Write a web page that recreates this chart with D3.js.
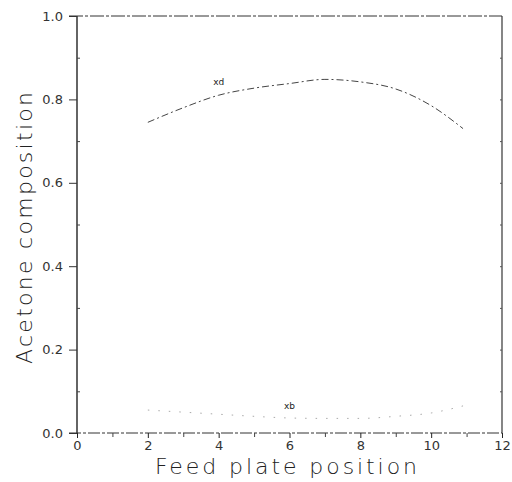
<!DOCTYPE html>
<html>
<head>
<meta charset="utf-8">
<script src="https://cdn.jsdelivr.net/npm/d3@7"></script>
<style>
  body { margin: 0; background: #fff; }
  svg text { font-family: "DejaVu Sans", sans-serif; }
</style>
</head>
<body>
<svg id="chart" width="512" height="482"></svg>
<script>
// plate positions and compositions
const plates = [2, 3, 4, 5, 6, 7, 8, 9, 10, 10.9];
const xd = [0.745, 0.780, 0.810, 0.827, 0.838, 0.848, 0.842, 0.825, 0.785, 0.730];
const xb = [0.055, 0.050, 0.045, 0.040, 0.036, 0.035, 0.035, 0.040, 0.048, 0.065];
const xTicks = [0, 2, 4, 6, 8, 10, 12];
const yTicks = [0.0, 0.2, 0.4, 0.6, 0.8, 1.0];

const width = 512, height = 482;
const m = { left: 77, right: 10, top: 16, bottom: 49 };

const svg = d3.select("#chart");

const x = d3.scaleLinear().domain([0, 12]).range([m.left, width - m.right]);
const y = d3.scaleLinear().domain([0, 1]).range([height - m.bottom, m.top]);

// frame: left/right solid, top/bottom dashed
svg.append("line")
  .attr("x1", x(0)).attr("x2", x(0)).attr("y1", y(0)).attr("y2", y(1))
  .attr("stroke", "#111").attr("stroke-width", 1.3)
svg.append("line")
  .attr("x1", x(12)).attr("x2", x(12)).attr("y1", y(0)).attr("y2", y(1))
  .attr("stroke", "#222").attr("stroke-width", 1.1)
svg.append("line")
  .attr("x1", x(0) - 8).attr("x2", x(12)).attr("y1", y(1)).attr("y2", y(1))
  .attr("stroke", "#333").attr("stroke-width", 1).attr("stroke-dasharray", "14,2,3,2")
svg.append("line")
  .attr("x1", x(0) - 8).attr("x2", x(12)).attr("y1", y(0)).attr("y2", y(0))
  .attr("stroke", "#333").attr("stroke-width", 1).attr("stroke-dasharray", "12,2,3,2")

// x axis
const xAxis = d3.axisBottom(x).tickValues(xTicks).tickSize(5).tickPadding(3)
  .tickFormat(d3.format("d"))
const gx = svg.append("g").attr("transform", `translate(0,${y(0)})`).call(xAxis)
gx.select(".domain").remove()
gx.selectAll(".tick line").attr("stroke", "#222")
gx.selectAll(".tick text").attr("fill", "#333").style("font-size", "13px")

const gxm = svg.append("g").attr("transform", `translate(0,${y(0)})`)
  .call(d3.axisBottom(x).tickValues([1, 3, 5, 7, 9, 11]).tickSize(4).tickFormat(""))
gxm.select(".domain").remove()
gxm.selectAll(".tick line").attr("stroke", "#444")

// y axis
const yAxis = d3.axisLeft(y).tickValues(yTicks).tickSize(8).tickPadding(6)
  .tickFormat(d3.format(".1f"))
const gy = svg.append("g").attr("transform", `translate(${x(0)},0)`).call(yAxis)
gy.select(".domain").remove()
gy.selectAll(".tick line").attr("stroke", "#333")
gy.selectAll(".tick text").attr("fill", "#333").style("font-size", "13px")

const gym = svg.append("g").attr("transform", `translate(${x(0)},0)`)
  .call(d3.axisRight(y).tickValues([0.1, 0.3, 0.5, 0.7, 0.9]).tickSize(3).tickFormat(""))
gym.select(".domain").remove()
gym.selectAll(".tick line").attr("stroke", "#444")

// right side minor ticks
const gyr = svg.append("g").attr("transform", `translate(${x(12)},0)`)
  .call(d3.axisLeft(y).tickValues([0.1, 0.2, 0.3, 0.4, 0.5, 0.6, 0.7, 0.8, 0.9]).tickSize(2).tickFormat(""))
gyr.select(".domain").remove()
gyr.selectAll(".tick line").attr("stroke", "#555")

// curves
const line = d3.line().curve(d3.curveMonotoneX)
  .x(d => x(d[0])).y(d => y(d[1]))

svg.append("path")
  .datum(plates.map((p, i) => [p, xd[i]]))
  .attr("d", line)
  .attr("fill", "none")
  .attr("stroke", "#444")
  .attr("stroke-width", 1)
  .attr("stroke-dasharray", "7,3,2,3")

svg.append("path")
  .datum(plates.map((p, i) => [p, xb[i]]))
  .attr("d", line)
  .attr("fill", "none")
  .attr("stroke", "#aaa")
  .attr("stroke-width", 1)
  .attr("stroke-dasharray", "1.5,9")

svg.append("text")
  .attr("x", x(4)).attr("y", y(0.834))
  .attr("text-anchor", "middle")
  .style("font-size", "9px").attr("fill", "#222")
  .text("xd")

svg.append("text")
  .attr("x", x(6)).attr("y", y(0.058))
  .attr("text-anchor", "middle")
  .style("font-size", "9px").attr("fill", "#222")
  .text("xb")

// axis titles
svg.append("text")
  .attr("x", 286).attr("y", 474)
  .attr("text-anchor", "middle")
  .attr("textLength", 262)
  .style("font-size", "22px").style("font-weight", 300)
  .attr("fill", "#222")
  .text("Feed  plate  position")

svg.append("text")
  .attr("transform", "translate(32,228) rotate(-90)")
  .attr("text-anchor", "middle")
  .attr("textLength", 272)
  .style("font-size", "22px").style("font-weight", 300)
  .attr("fill", "#222")
  .text("Acetone  composition")
</script>
</body>
</html>
